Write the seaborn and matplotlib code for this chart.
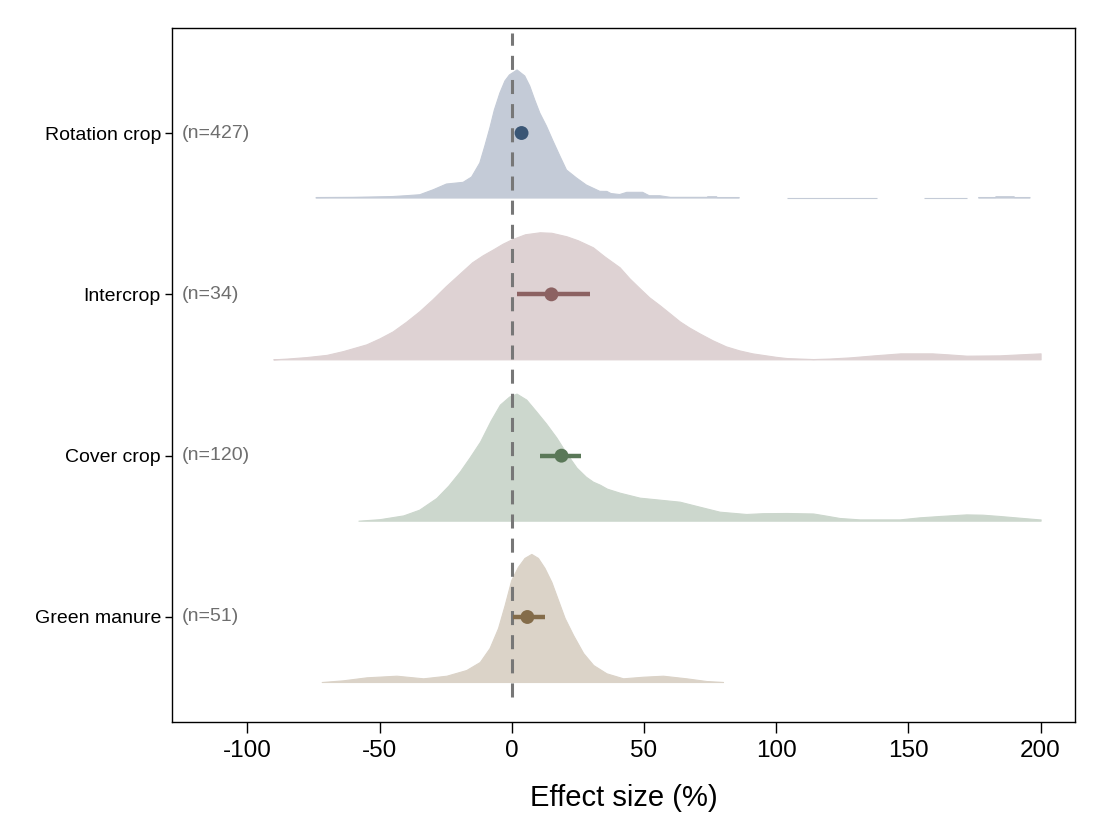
import numpy as np
import matplotlib
matplotlib.use("Agg")
import matplotlib.pyplot as plt
import seaborn as sb

# groups, top to bottom
groups = ["Rotation crop", "Intercrop", "Cover crop", "Green manure"]
n_obs = [427, 34, 120, 51]

# density profiles (x in %, height relative, peak ~ 128)
# nan = no density drawn there
rot_x = [-74, -60, -45, -39, -34.8, -29.7, -24.7, -18.4, -15.2, -12.1, -10.2, -8.3, -6.6, -4.5,
         -2.6, -0.9, 2, 4.9, 6.8, 8.7, 10.6, 13.1, 15.6, 18.2, 20.7, 24.5, 28.2, 33.3, 36, 37.5,
         40.8, 43.5, 49.5, 52, 56, 60, 74, 74.1, 77.5, 77.6, 86, 86.1, 103.9, 104, 138, 138.1,
         155.9, 156, 172, 172.1, 176.5, 176.6, 183, 183.1, 190, 190.1, 196]
rot_h = [0.5, 0.7, 1.5, 2.5, 3.3, 8.3, 14, 15.7, 21, 35, 52, 70, 88, 105,
         117, 123, 128, 122, 112, 98, 85, 72, 57, 42, 28, 20, 13, 6.7, 6.6, 4.5,
         3.5, 5.7, 5.7, 2.3, 2.3, 0.7, 0.7, 1.3, 1.3, 0.5, 0.5, np.nan, np.nan, 0.5, 0.5, np.nan,
         np.nan, 0.5, 0.5, np.nan, np.nan, 0.5, 0.5, 1.3, 1.3, 0.5, 0.5]

int_x = [-90.2, -85, -77.6, -70, -63.8, -55, -50, -45, -40, -35, -30, -25, -20, -15, -11, -7, -3.5,
         0, 5, 10.6, 15, 20.7, 25, 30.7, 35, 40.8, 44.5, 48.4, 52, 56, 60, 63.5, 67, 71, 76, 81,
         86, 91, 100, 104, 114, 120, 128, 137, 147, 159, 165, 172, 184.5, 192, 200]
int_h = [0, 0.8, 2.3, 4.5, 8.3, 15, 21, 28, 37.5, 48, 60, 73, 85, 97, 104, 110, 115.5,
         120, 125, 127, 126.5, 123, 119, 112, 103, 92, 81, 71, 62, 54, 45.5, 38, 32, 26, 19, 13,
         9, 6, 2.5, 1.3, 0.3, 0.8, 2, 4, 6, 6, 5, 3.7, 4, 5, 6]

cov_x = [-58, -50, -41, -35, -28.5, -24, -19.7, -16, -12, -8, -4.5, -1, 1.8, 5.5, 9.3, 13, 16.9,
         20.5, 24.5, 28, 30.7, 33.3, 36, 40.8, 48.4, 56, 63.5, 71, 78.6, 88.7, 95, 104, 114, 119,
         124, 131.6, 146.7, 154, 161.8, 171.9, 178, 184.5, 192, 199.6, 200]
cov_h = [0, 1.5, 5.3, 11, 22.7, 35, 49, 63, 79, 100, 116, 124, 127, 121, 109, 97, 83,
         68, 53, 44, 39, 36, 32, 28, 23, 21, 19, 14, 9, 6.7, 7.5, 7.7, 7.2, 5,
         2.7, 1.3, 1.3, 3.3, 4.7, 6.3, 6, 4.7, 3, 1.3, 1.3]

grn_x = [-71.9, -63.8, -54.9, -43.6, -33.5, -24.7, -17.2, -12.1, -8.4, -5.2, -2.7, -0.2, 2.3, 4.8,
         7.4, 9.9, 12.4, 15, 17.5, 20, 23.2, 27, 30.8, 35.8, 42.1, 49.7, 57.2, 66, 73.6, 79.9]
grn_h = [0, 1.7, 4.7, 6.3, 3.7, 6.3, 12, 20, 34, 54, 77, 102, 115, 124,
         128, 124, 114, 100, 82, 64, 47, 29, 17, 8.7, 3.7, 5.3, 6.3, 3.7, 1, 0]

# mean effect and 95% CI
means = [3.7, 15.0, 18.8, 5.9]
ci_low = [2.3, 2.0, 10.8, 0.6]
ci_high = [5.1, 29.5, 26.2, 12.4]

fills = ["#c4cbd7", "#ded2d3", "#ccd7cd", "#dbd3c8"]
dots = ["#3a5675", "#8c6262", "#5a7858", "#846c4a"]

sb.set_theme(style="white")
plt.rcParams['font.family'] = ['Liberation Sans', 'DejaVu Sans']
plt.rcParams['text.color'] = 'black'
plt.rcParams['axes.labelcolor'] = 'black'
plt.rcParams['xtick.color'] = 'black'
plt.rcParams['ytick.color'] = 'black'

fig = plt.figure(figsize=(11.04, 8.38), dpi=100)
ax = fig.add_axes([0.1558, 0.1384, 0.8179, 0.8282])

ypos = [3, 2, 1, 0]
base_off = -0.403
ridge_scale = 0.794 / 128

profiles = [(rot_x, rot_h), (int_x, int_h), (cov_x, cov_h), (grn_x, grn_h)]
for i, (px, ph) in enumerate(profiles):
    px = np.array(px, dtype=float)
    ph = np.array(ph, dtype=float)
    base = ypos[i] + base_off
    ax.fill_between(px, base, base + ph * ridge_scale,
                    facecolor=fills[i], edgecolor=fills[i], linewidth=0.8, zorder=1)

# reference line at zero
ax.vlines(0, -0.496, 3.62, colors="#777777", linestyles=(0, (4.6, 3.3)), linewidth=2.2, zorder=3)

# means with CI
ax.hlines(ypos, ci_low, ci_high, colors=dots, linewidth=3.2, zorder=4)
sb.scatterplot(x=means, y=ypos, hue=groups, palette=dots, s=100, edgecolor="none",
               legend=False, ax=ax, zorder=5)

for i in range(4):
    ax.text(-125, ypos[i], "(n=%d)" % n_obs[i], ha="left", va="center",
            fontsize=14, color="#6e6e6e")

ax.set_xlim(-128.5, 213)
ax.set_ylim(-0.651, 3.651)
ax.set_xticks([-100, -50, 0, 50, 100, 150, 200])
ax.set_xticklabels(["-100", "-50", "0", "50", "100", "150", "200"])
ax.set_yticks(ypos)
ax.set_yticklabels(groups)
ax.tick_params(axis="x", labelsize=17.5, length=8, width=1, color="black", direction="out",
               pad=5, bottom=True)
ax.tick_params(axis="y", labelsize=14, length=5, width=1, color="black", direction="out",
               pad=3, left=True)
ax.set_xlabel("Effect size (%)", fontsize=21, labelpad=16)
ax.set_ylabel("")
for s in ax.spines.values():
    s.set_color("black")
    s.set_linewidth(1)

plt.savefig("out.png", dpi=100)
